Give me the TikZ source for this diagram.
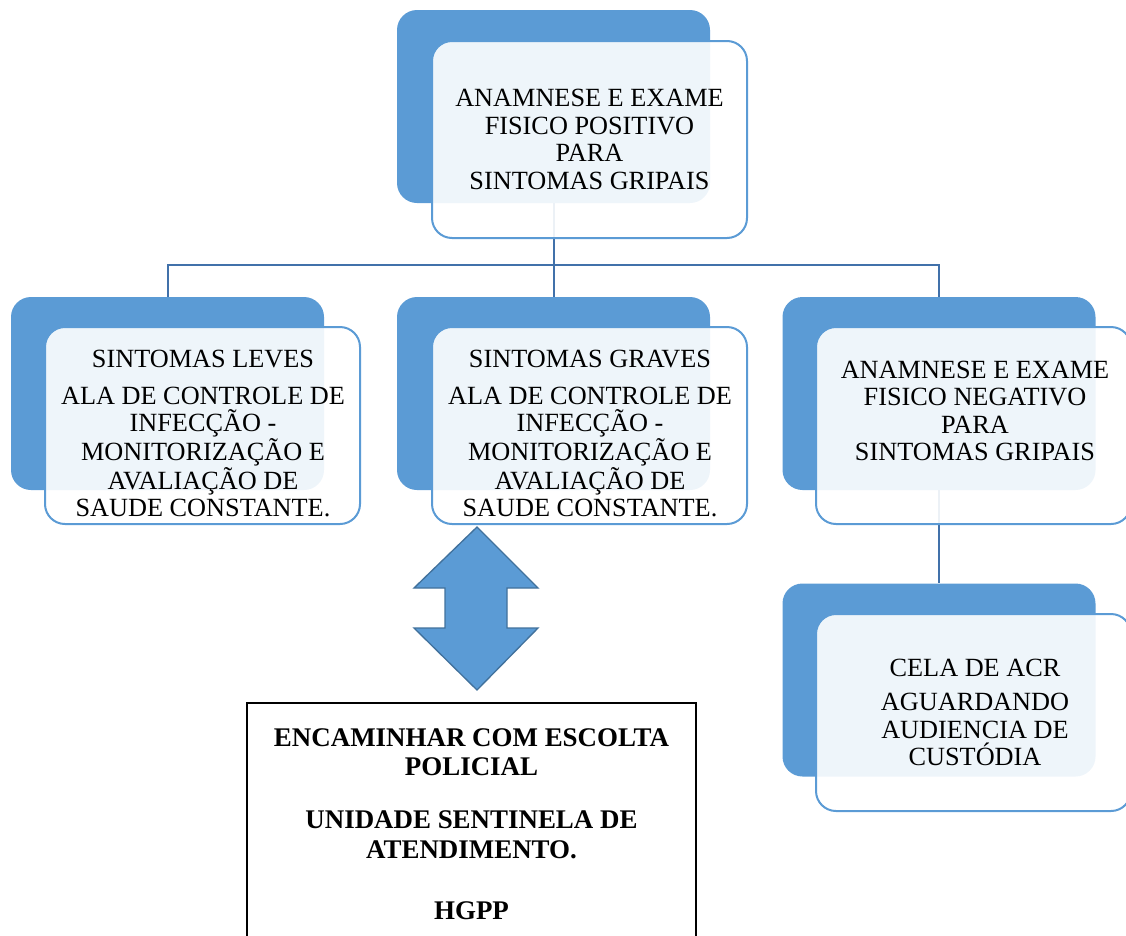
\documentclass[tikz,border=0pt]{standalone}
\usepackage{fontspec}
\setmainfont{Liberation Serif}
\definecolor{accent}{RGB}{91,155,213}
\definecolor{linkblue}{RGB}{65,113,170}
\definecolor{arrowedge}{RGB}{65,113,156}
\tikzset{
  back/.style={fill=accent, rounded corners=15pt, minimum width=234.75pt, minimum height=144.75pt},
  front/.style={draw=accent, line width=1.5pt, fill=white, fill opacity=0.9,
    rounded corners=15pt, minimum width=236.25pt, minimum height=147.75pt},
  label/.style={align=center, font=\fontsize{19.7}{20.6}\selectfont},
  link/.style={draw=linkblue, line width=1.5pt}
}
\begin{document}
\begin{tikzpicture}[x=0.75pt,y=-0.75pt]
  \clip (0,0) rectangle (1126,935);
  % back panels
  \node[back] (b0) at (553.5,106.5) {};
  \node[back] (b1) at (167.5,393.5) {};
  \node[back] (b2) at (553.5,393.5) {};
  \node[back] (b3) at (939,393.5) {};
  \node[back] (b4) at (939,680) {};
  % tree links
  \coordinate (bus) at (553.5,265);
  \begin{scope}[link]
    \draw (b0.south) -- (bus);
    \draw (b1.north) |- (bus) -| (b3.north);
    \draw (b2.north) -- (bus);
    \draw (b3.south) -- (b4.north);
  \end{scope}
  % front panels
  \node[front] (f0) at (589.5,139.5) {};
  \node[front] (f1) at (202.5,425.5) {};
  \node[front] (f2) at (589.5,425.5) {};
  \node[front] (f3) at (973.5,425.5) {};
  \node[front] (f4) at (973.5,712.5) {};
  % texts
  \node[label] (t0) at (589.5,139.5) {ANAMNESE E EXAME\\FISICO POSITIVO\\PARA\\SINTOMAS GRIPAIS};
  \node[label] (t1) at (203,433.5) {SINTOMAS LEVES\\[7pt]ALA DE CONTROLE DE\\INFECÇÃO -\\MONITORIZAÇÃO E\\AVALIAÇÃO DE\\SAUDE CONSTANTE.};
  \node[label] (t2) at (590,433.5) {SINTOMAS GRAVES\\[7pt]ALA DE CONTROLE DE\\INFECÇÃO -\\MONITORIZAÇÃO E\\AVALIAÇÃO DE\\SAUDE CONSTANTE.};
  \node[label] (t3) at (975,411) {ANAMNESE E EXAME\\FISICO NEGATIVO\\PARA\\SINTOMAS GRIPAIS};
  \node[label] (t4) at (975,712.5) {CELA DE ACR\\[5pt]AGUARDANDO\\AUDIENCIA DE\\CUSTÓDIA};
  % double arrow
  \draw[fill=accent, draw=arrowedge, line width=1pt]
    (477,527) -- (538,588) -- (507,588) -- (507,628) -- (538,628) -- (477,690)
    -- (414,628) -- (445,628) -- (445,588) -- (414,588) -- cycle;
  % referral box
  \node[draw=black, line width=1.1pt, minimum width=336.75pt, minimum height=181.5pt,
    align=center, font=\fontsize{20.2}{22}\selectfont\bfseries] (hgpp) at (471.5,824)
    {ENCAMINHAR COM ESCOLTA\\POLICIAL\\[18pt]UNIDADE SENTINELA DE\\ATENDIMENTO.\\[24pt]HGPP};
\end{tikzpicture}
\end{document}
